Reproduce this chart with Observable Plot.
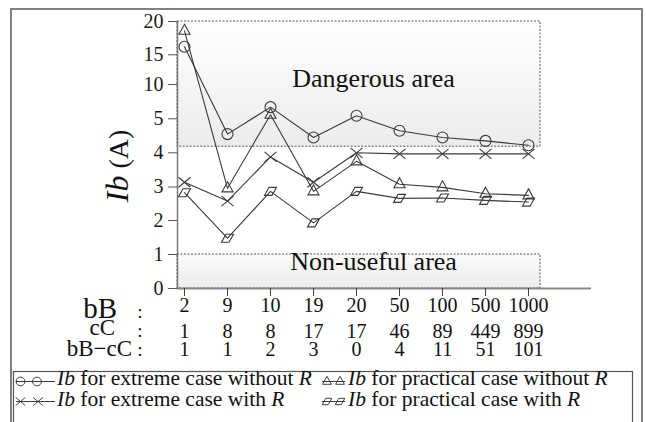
<!DOCTYPE html>
<html><head><meta charset="utf-8">
<script src="https://cdn.jsdelivr.net/npm/d3@7"></script>
<script src="https://cdn.jsdelivr.net/npm/@observablehq/plot@0.6"></script>
<style>
body{margin:0;background:#fff;}
#wrap{position:relative;width:646px;height:422px;overflow:hidden;font-family:"Liberation Serif","DejaVu Serif",serif;}
#frame{position:absolute;left:10px;top:8px;width:629px;height:500px;border:2px solid #808080;pointer-events:none;z-index:3}
#chart{position:absolute;left:0;top:0}
#legend{position:absolute;left:0;top:366px}
svg text{font-family:"Liberation Serif","Tinos","Times New Roman","DejaVu Serif",serif !important;}
</style></head><body><div id="wrap"><div id="chart"></div><div id="legend"></div><div id="frame"></div></div>
<script>
// ---- data ----
const bB = ["2","9","10","19","20","50","100","500","1000"];
const cC = [1,8,8,17,17,46,89,449,899];
const bBminuscC = [1,1,2,3,0,4,11,51,101];
const extremeNoR   = [16.2, 4.55, 6.7, 4.45, 5.45, 4.65, 4.45, 4.35, 4.22];
const practicalNoR = [18.6, 2.96, 5.6, 2.87, 3.75, 3.08, 2.99, 2.8, 2.75];
const extremeR     = [3.14, 2.58, 3.88, 3.14, 4.0, 3.97, 3.97, 3.97, 3.97];
const practicalR   = [2.83, 1.48, 2.87, 1.93, 2.87, 2.66, 2.67, 2.6, 2.55];
const yTicks = [0,1,2,3,4,5,10,15,20];
const dangerFloor = 4.18, dangerTop = 20;
const nonUsefulFloor = 0, nonUsefulTop = 1;
const seriesNames = ["extreme case without R","practical case without R","extreme case with R","practical case with R"];
const rowLabels = ["bB","cC","bB\u2212cC"];
const areaLabels = ["Dangerous area","Non-useful area"];

// ---- symbols ----
const circSym = {draw(c){ c.moveTo(5.5,0); c.arc(0,0,5.5,0,2*Math.PI); }};
const triSym = {draw(c){ c.moveTo(0,-6.5); c.lineTo(5.5,3.5); c.lineTo(-5.5,3.5); c.closePath(); }};
const timesSym = {draw(c){ c.moveTo(-6,-5); c.lineTo(6,5); c.moveTo(-6,5); c.lineTo(6,-5); }};
const paraSym = {draw(c){ c.moveTo(-1.5,-4); c.lineTo(6,-4); c.lineTo(1.5,4); c.lineTo(-6,4); c.closePath(); }};

const series = [
  {name: seriesNames[0], values: extremeNoR, sym: circSym},
  {name: seriesNames[1], values: practicalNoR, sym: triSym},
  {name: seriesNames[2], values: extremeR, sym: timesSym},
  {name: seriesNames[3], values: practicalR, sym: paraSym}
];
const ink = "#3a3a3a";
const serif = '"Liberation Serif","Tinos","Times New Roman","DejaVu Serif",serif';

const seriesMarks = series.flatMap(s => {
  const rows = bB.map((b,i) => ({bB: b, Ib: s.values[i]}));
  return [
    Plot.line(rows, {x: "bB", y: "Ib", stroke: ink, strokeWidth: 1.1}),
    Plot.dot(rows, {x: "bB", y: "Ib", symbol: s.sym, stroke: ink, fill: "none", strokeWidth: 1.1})
  ];
});

const areaRows = [
  {a: bB[0], b: bB[bB.length-1], lo: dangerFloor, hi: dangerTop},
  {a: bB[0], b: bB[bB.length-1], lo: nonUsefulFloor, hi: nonUsefulTop}
];

const chart = Plot.plot({
  width: 646, height: 366,
  marginLeft: 177, marginRight: 55, marginTop: 21, marginBottom: 78,
  style: {fontFamily: serif, background: "transparent", overflow: "visible", color: "#1a1a1a"},
  x: {type: "point", domain: bB, range: [184, 528], padding: 0, label: null},
  y: {type: "linear", domain: yTicks, range: [288, 254, 220, 186.5, 152.3, 118.3, 84, 54.3, 21], label: null},
  marks: [
    Plot.rect([areaRows[0]], {x1: "a", x2: "b", y1: "lo", y2: "hi", insetLeft: -7, insetRight: -12, fill: "url(#gDanger)", stroke: "#555", strokeWidth: 1, strokeDasharray: "2,1.5"}),
    Plot.rect([areaRows[1]], {x1: "a", x2: "b", y1: "lo", y2: "hi", insetLeft: -7, insetRight: -12, fill: "url(#gNon)", stroke: "#555", strokeWidth: 1, strokeDasharray: "2,1.5"}),
    Plot.text([areaLabels[0]], {text: d => d, frameAnchor: "top", dx: -11, dy: 46.7, fontSize: 26, fill: "#111"}),
    Plot.text([areaLabels[1]], {text: d => d, frameAnchor: "bottom", dx: -11, dy: -18.3, fontSize: 26, fill: "#111"}),
    Plot.ruleY([0], {stroke: "#888", strokeWidth: 2}),
    Plot.ruleX([bB[0]], {dx: -7, y1: 0, y2: 20, stroke: "#777", strokeWidth: 1.5}),
    Plot.axisY({ticks: yTicks, tickSize: 9, tickPadding: 5, fontSize: 20, tickFormat: d => String(d), stroke: "#555", label: null}),
    Plot.axisX({tickSize: 8, tickFormat: () => "", stroke: "#444", label: null}),
    ...seriesMarks,
    Plot.text(bB, {x: d => d, text: d => d, frameAnchor: "bottom", dy: 23.6, fontSize: 20, fill: "#111"}),
    Plot.text(bB.map((b,i) => ({b, v: cC[i]})), {x: "b", text: d => String(d.v), frameAnchor: "bottom", dy: 49.6, fontSize: 20, fill: "#111"}),
    Plot.text(bB.map((b,i) => ({b, v: bBminuscC[i]})), {x: "b", text: d => String(d.v), frameAnchor: "bottom", dy: 67.1, fontSize: 20, fill: "#111"})
  ]
});
document.getElementById("chart").appendChild(chart);

const s = d3.select(chart);
const defs = s.insert("defs", ":first-child");
const g1 = defs.append("linearGradient").attr("id","gDanger").attr("x1",0).attr("y1",0).attr("x2",0).attr("y2",1);
g1.append("stop").attr("offset","0%").attr("stop-color","#ffffff");
g1.append("stop").attr("offset","100%").attr("stop-color","#ececec");
const g2 = defs.append("linearGradient").attr("id","gNon").attr("x1",0).attr("y1",0).attr("x2",0).attr("y2",1);
g2.append("stop").attr("offset","0%").attr("stop-color","#fafafa");
g2.append("stop").attr("offset","100%").attr("stop-color","#ececec");

// y label
const yl = s.append("text").attr("transform","translate(128,166) rotate(-90)").attr("text-anchor","middle")
  .attr("font-size", 32).attr("fill","#111");
yl.append("tspan").attr("font-style","italic").text("Ib");
yl.append("tspan").attr("font-size", 28).text(" (A)");

// row labels
const lab = [[rowLabels[0], 117, 318, 29],[rowLabels[1], 115, 335, 23],[rowLabels[2], 132, 356, 23]];
lab.forEach(([t,x,y,f]) => s.append("text").attr("x",x).attr("y",y).attr("text-anchor","end")
  .attr("font-size",f).attr("fill","#111").text(t));
[318,337,356].forEach(y => s.append("text").attr("x",140).attr("y",y).attr("text-anchor","middle")
  .attr("font-size",19).attr("fill","#111").text(":"));

// legend
const L = d3.select("#legend").append("svg").attr("width",646).attr("height",56);
L.append("rect").attr("x",13.5).attr("y",5.5).attr("width",619).attr("height",70).attr("fill","none").attr("stroke","#555").attr("stroke-width",1.2);
const entries = [
  {s: series[0], x0: 16, x1: 55, mx: [20.5,37], y: 15.5, tx: 57, ty: 19},
  {s: series[1], x0: 322, x1: 345, mx: [327,340], y: 15.5, tx: 348, ty: 19},
  {s: series[2], x0: 16, x1: 55, mx: [20.5,38], y: 35.5, tx: 57, ty: 40},
  {s: series[3], x0: 322, x1: 345, mx: [327,340], y: 35.5, tx: 348, ty: 40}
];
entries.forEach(e => {
  L.append("line").attr("x1",e.x0).attr("x2",e.x1).attr("y1",e.y).attr("y2",e.y).attr("stroke",ink).attr("stroke-width",1);
  e.mx.forEach(mx => {
    const p = d3.path(); e.s.sym.draw(p);
    L.append("path").attr("d", p.toString()).attr("transform",`translate(${mx},${e.y}) scale(0.8)`)
      .attr("fill","none").attr("stroke",ink).attr("stroke-width",1.2);
  });
  const t = L.append("text").attr("x",e.tx).attr("y",e.ty).attr("font-size",21.5).attr("fill","#111");
  t.append("tspan").attr("font-style","italic").text("Ib");
  const words = e.s.name.replace(/ R$/, " ");
  t.append("tspan").text(" for " + words);
  t.append("tspan").attr("font-style","italic").text("R");
});
</script></body></html>
